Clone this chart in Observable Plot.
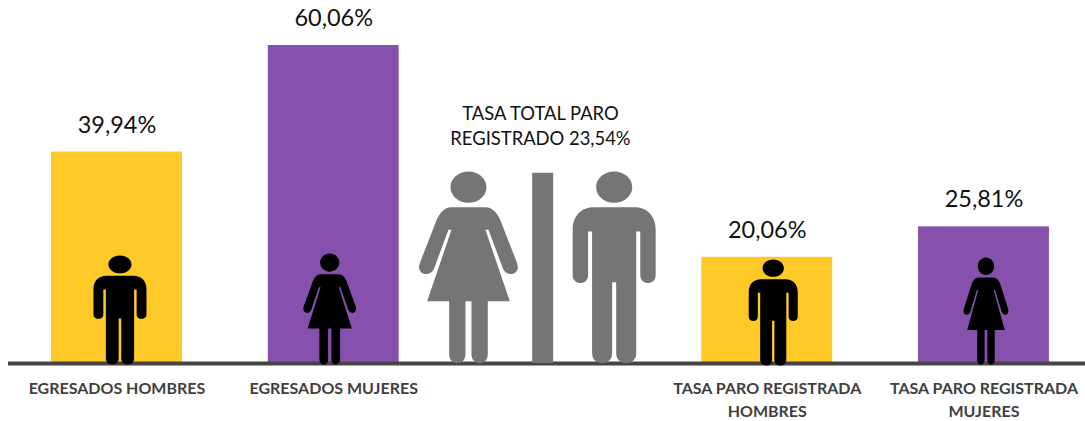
<!DOCTYPE html>
<html><head><meta charset="utf-8">
<style>html,body{margin:0;padding:0;background:#fff}svg{display:block}</style>
<script src="https://cdn.jsdelivr.net/npm/d3@7"></script>
<script src="https://cdn.jsdelivr.net/npm/@observablehq/plot@0.6"></script>
</head><body><div id="chart"></div>
<script>
const categories = ["EGRESADOS HOMBRES","EGRESADOS MUJERES","TOTAL","TASA PARO REGISTRADA\nHOMBRES","TASA PARO REGISTRADA\nMUJERES"];
const barCategories = [categories[0],categories[1],categories[3],categories[4]];
const barValues = [39.94,60.06,20.06,25.81];
const barLabels = ["39,94%","60,06%","20,06%","25,81%"];
const barGroups = ["hombres","mujeres","hombres","mujeres"];
const groupDomain = ["hombres","mujeres"];
const groupColors = ["#FFC928","#8651AC"];
const totalCategory = "TOTAL";
const totalLabel = "TASA TOTAL PARO\nREGISTRADO 23,54%";
const dividerValue = 35.94;

const bars = barCategories.map((c,i)=>({category:c,value:barValues[i],label:barLabels[i],group:barGroups[i]}));

// Pictogram outlines, in their own design units (origin at the feet)
function bez(c,x,y,rx,ry){const k=.5523;
  c.moveTo(x+rx,y);
  c.bezierCurveTo(x+rx,y+k*ry,x+k*rx,y+ry,x,y+ry);
  c.bezierCurveTo(x-k*rx,y+ry,x-rx,y+k*ry,x-rx,y);
  c.bezierCurveTo(x-rx,y-k*ry,x-k*rx,y-ry,x,y-ry);
  c.bezierCurveTo(x+k*rx,y-ry,x+rx,y-k*ry,x+rx,y);
  c.closePath();}
function person(design,W,aspect){
  return {draw(ctx,size){
    const h=2*Math.sqrt(size/Math.PI), sy=h/575, sx=h*aspect/W;
    const c={
      moveTo:(x,y)=>ctx.moveTo(x*sx,y*sy),
      lineTo:(x,y)=>ctx.lineTo(x*sx,y*sy),
      bezierCurveTo:(a,b,d,e,x,y)=>ctx.bezierCurveTo(a*sx,b*sy,d*sx,e*sy,x*sx,y*sy),
      closePath:()=>ctx.closePath()};
    design(c);
  }};
}
function manShape(c){
  bez(c,0,-528,54,47);
  c.moveTo(0,-468);c.lineTo(62,-468);
  c.bezierCurveTo(100,-468,124,-440,124,-400);
  c.lineTo(124,-264);
  c.bezierCurveTo(124,-233,78,-233,78,-264);
  c.lineTo(78,-395);c.lineTo(66,-395);
  c.lineTo(66,-30);
  c.bezierCurveTo(66,10,6,10,6,-30);
  c.lineTo(6,-243);c.lineTo(-6,-243);
  c.lineTo(-6,-30);
  c.bezierCurveTo(-6,10,-66,10,-66,-30);
  c.lineTo(-66,-395);c.lineTo(-78,-395);
  c.lineTo(-78,-264);
  c.bezierCurveTo(-78,-233,-124,-233,-124,-264);
  c.lineTo(-124,-400);
  c.bezierCurveTo(-124,-440,-100,-468,-62,-468);
  c.closePath();
}
function womanShape(c){
  bez(c,0,-528,54,47);
  c.moveTo(0,-468);c.lineTo(50,-468);
  c.bezierCurveTo(75,-468,92,-445,101,-415);
  c.lineTo(146,-300);
  c.bezierCurveTo(158,-265,116,-255,103,-285);
  c.lineTo(60,-400);c.lineTo(51,-400);
  c.lineTo(124,-186);c.lineTo(58,-186);
  c.lineTo(58,-27);
  c.bezierCurveTo(58,9,9,9,9,-27);
  c.lineTo(9,-186);c.lineTo(-9,-186);
  c.lineTo(-9,-27);
  c.bezierCurveTo(-9,9,-58,9,-58,-27);
  c.lineTo(-58,-186);c.lineTo(-124,-186);
  c.lineTo(-51,-400);c.lineTo(-60,-400);
  c.lineTo(-103,-285);
  c.bezierCurveTo(-116,-255,-158,-265,-146,-300);
  c.lineTo(-101,-415);
  c.bezierCurveTo(-92,-445,-75,-468,-50,-468);
  c.closePath();
}
const icon=(shape,W,cat,h,w,dx,dy,fill)=>Plot.dot([{category:cat,value:0}],{
  x:"category",y:"value",r:h/2,symbol:person(shape,W,w/h),fill,stroke:"none",dx,dy});

const font="Lato, 'Open Sans', sans-serif";
const plot=Plot.plot({
  width:1085,height:421,
  marginLeft:8,marginRight:0,marginTop:45,marginBottom:58,
  style:{fontFamily:font,background:"#fff"},
  x:{domain:categories,range:[8.1,1091.85],paddingInner:.396,paddingOuter:.198,round:false,label:null},
  y:{domain:[0,60.06],axis:null,label:null},
  color:{domain:groupDomain,range:groupColors},
  marks:[
    Plot.barY(bars,{x:"category",y:"value",fill:"group"}),
    Plot.ruleY([0],{stroke:"#454545",strokeWidth:4}),
    Plot.ruleX([totalCategory],{y1:0,y2:dividerValue,stroke:"#757575",strokeWidth:21,dx:-7.8}),
    icon(manShape,248,categories[0],109,53,3,1,"#000"),
    icon(womanShape,297,categories[1],111,53,-4,1,"#000"),
    icon(womanShape,297,totalCategory,191.7,99,-82,-.3,"#757575"),
    icon(manShape,248,totalCategory,191.7,83,63.7,-.3,"#757575"),
    icon(manShape,248,categories[3],106,49,6,2,"#000"),
    icon(womanShape,297,categories[4],107,45,2,1,"#000"),
    Plot.text(bars,{x:"category",y:"value",text:"label",dy:-27,fontSize:23.5,fill:"#111",lineAnchor:"middle"}),
    Plot.text([totalLabel],{x:()=>totalCategory,y:()=>dividerValue,text:d=>d,dx:-10,dy:-49,fontSize:18.4,lineHeight:1.41,fill:"#111",lineAnchor:"middle"}),
    Plot.axisX({tickSize:0,tickPadding:14,fontSize:16,fontWeight:700,fill:"#404040",lineHeight:1.44,label:null,
      tickFormat:d=>d===totalCategory?"":d})
  ]
});
document.getElementById("chart").append(plot);
</script></body></html>
